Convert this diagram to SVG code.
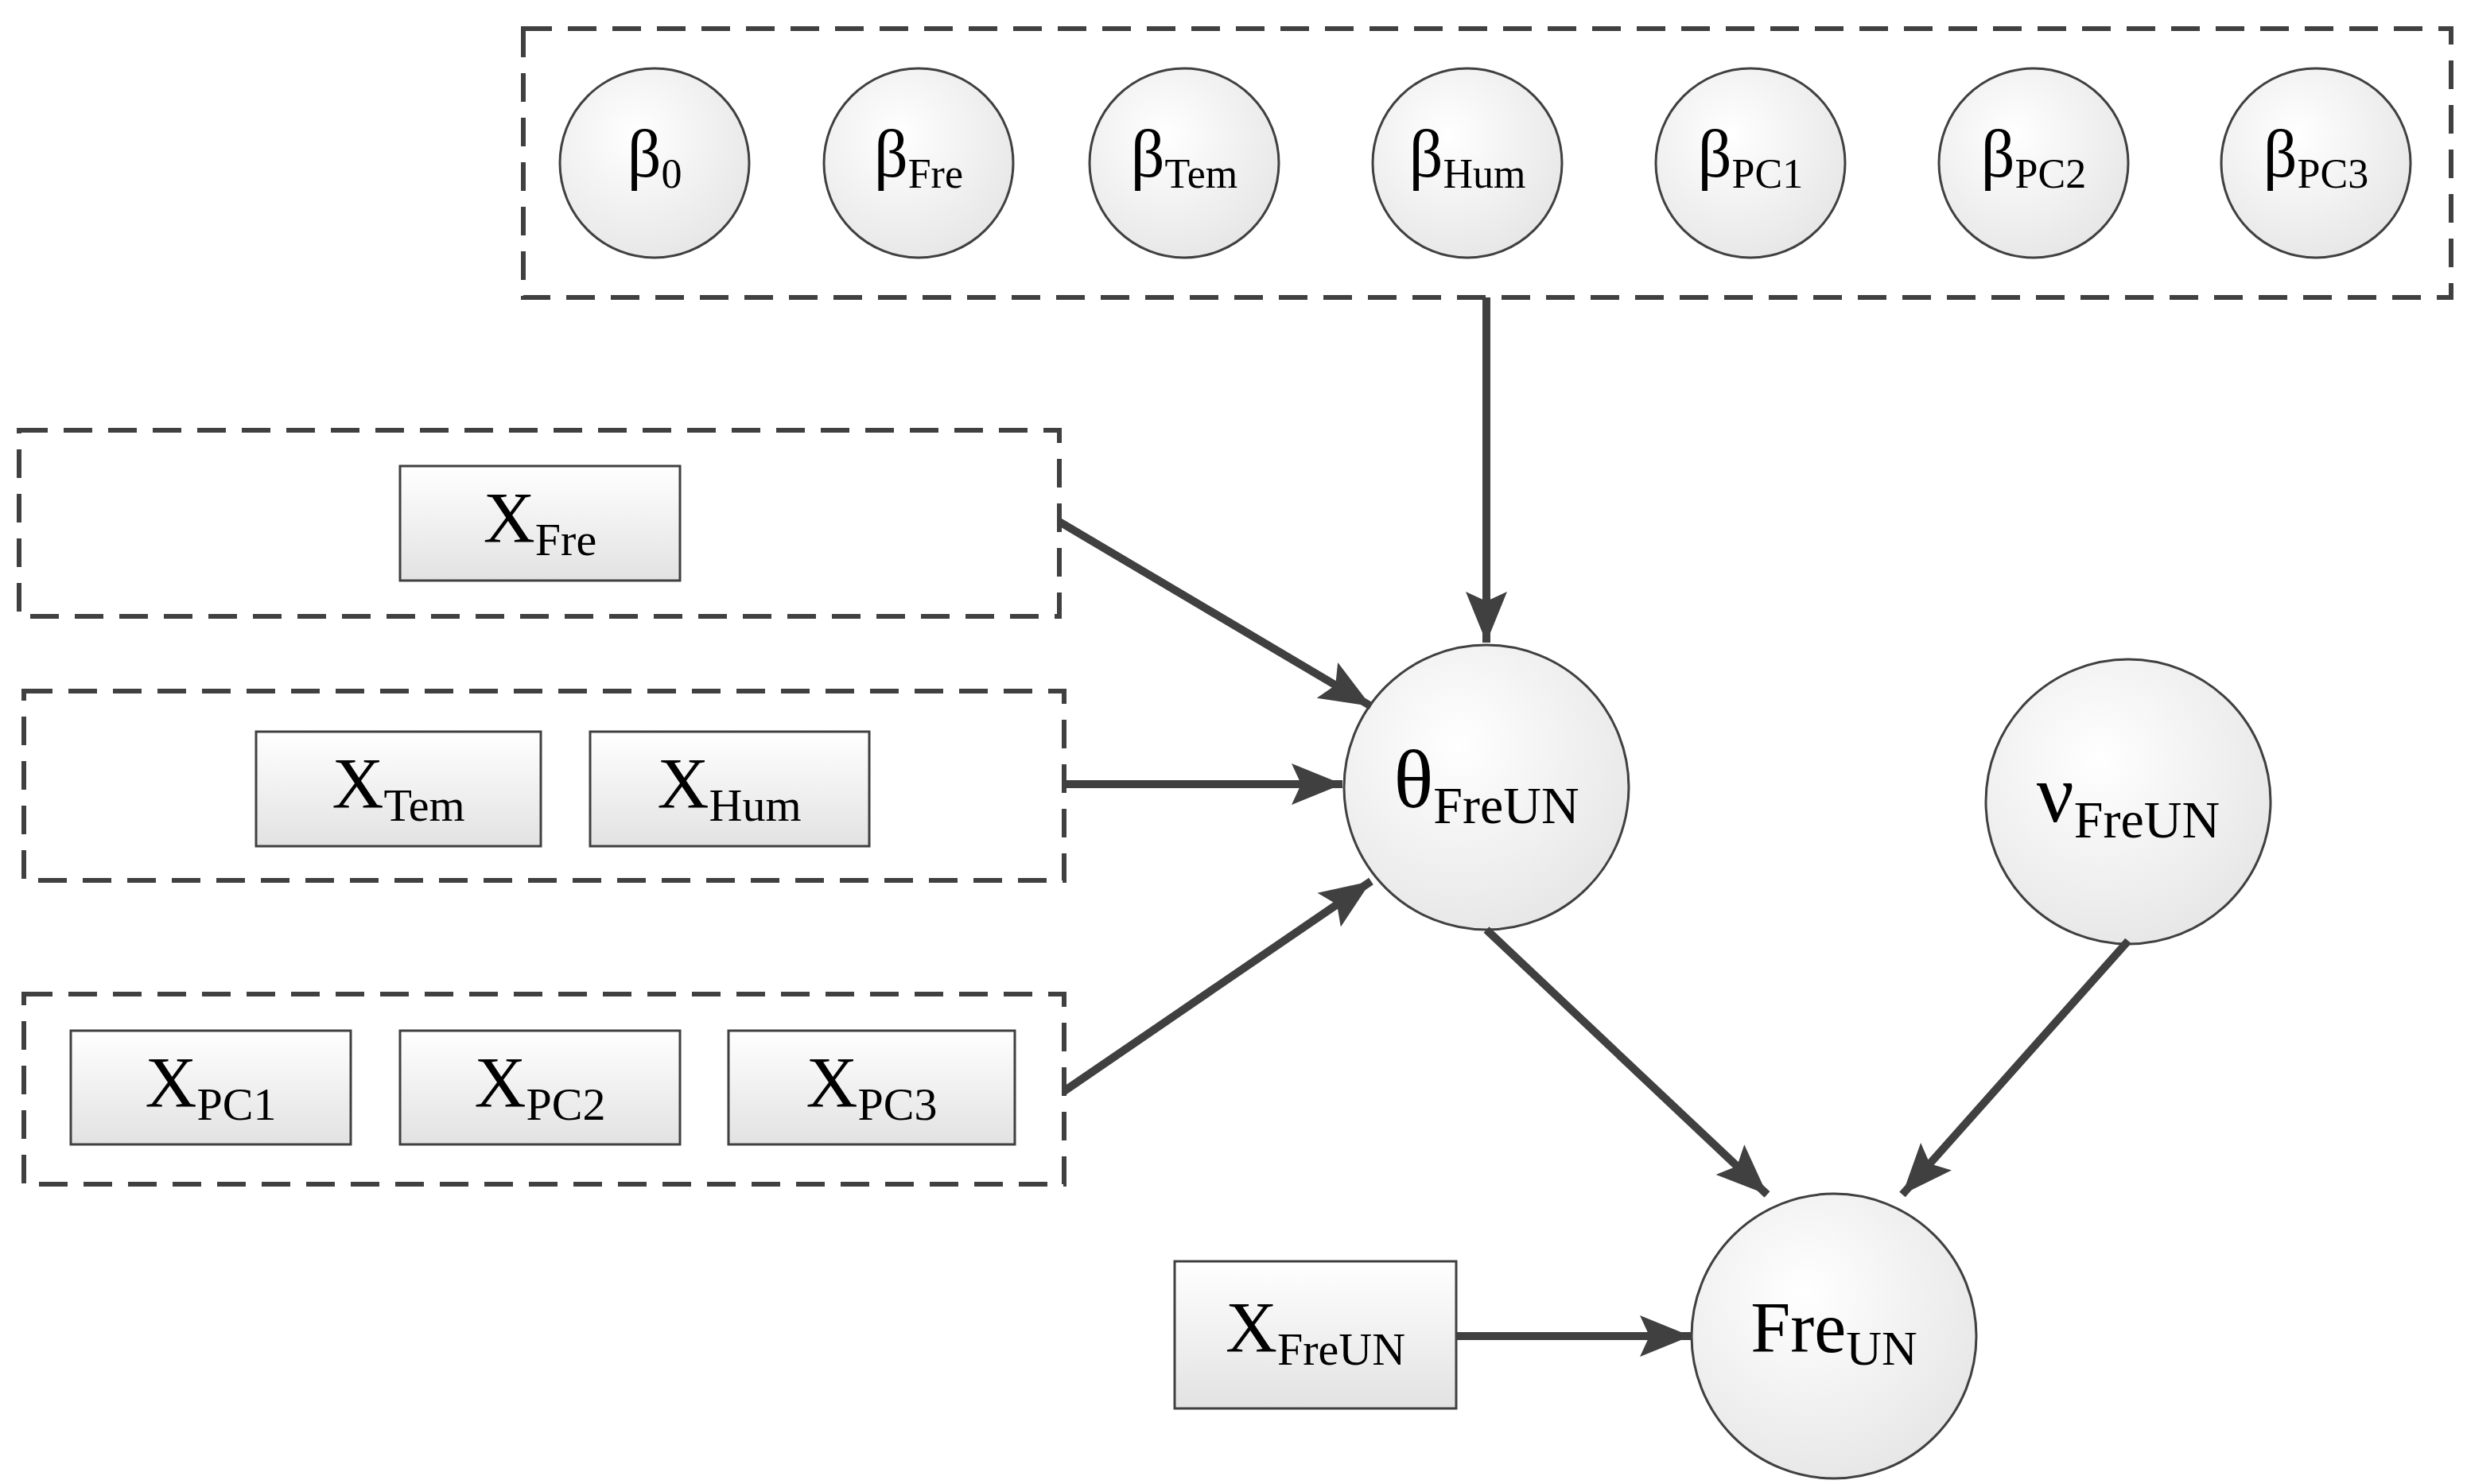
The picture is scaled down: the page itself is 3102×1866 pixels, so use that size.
<svg xmlns="http://www.w3.org/2000/svg" width="3102" height="1866" viewBox="0 0 3102 1866">
<defs>
<radialGradient id="cg" cx="0.4" cy="0.35" r="0.7"><stop offset="0" stop-color="#ffffff"/><stop offset="1" stop-color="#e6e6e6"/></radialGradient>
<linearGradient id="rg" x1="0" y1="0" x2="0" y2="1"><stop offset="0" stop-color="#ffffff"/><stop offset="1" stop-color="#e2e2e2"/></linearGradient>
<marker id="ah" markerUnits="userSpaceOnUse" markerWidth="70" markerHeight="60" refX="64" refY="30" orient="auto"><path d="M0,4 L64,30 L0,56 L12,30 Z" fill="#404040"/></marker>
<style>
.dash{fill:none;stroke:#404040;stroke-width:6;stroke-dasharray:36,20}
.c{fill:url(#cg);stroke:#404040;stroke-width:3}
.r{fill:url(#rg);stroke:#404040;stroke-width:3}
.t{font-family:"Liberation Serif",serif;fill:#000;text-anchor:middle}
.s{font-size:84px}.m{font-size:90px}.b{font-size:104px}
.e{stroke:#404040;stroke-width:10;fill:none;marker-end:url(#ah)}
</style>
</defs>
<rect width="3102" height="1866" fill="#fff"/>
<rect class="dash" x="658" y="36" width="2424" height="338"/>
<rect class="dash" x="24" y="541" width="1308" height="234"/>
<rect class="dash" x="30" y="869" width="1308" height="238"/>
<rect class="dash" x="30" y="1250" width="1308" height="239"/>
<g id="b0"><circle class="c" cx="823" cy="205" r="119"/><text class="t s" x="823" y="222">β<tspan font-size="52" dy="14">0</tspan></text></g>
<g id="bFre"><circle class="c" cx="1155" cy="205" r="119"/><text class="t s" x="1155" y="222">β<tspan font-size="52" dy="14">Fre</tspan></text></g>
<g id="bTem"><circle class="c" cx="1489" cy="205" r="119"/><text class="t s" x="1489" y="222">β<tspan font-size="52" dy="14">Tem</tspan></text></g>
<g id="bHum"><circle class="c" cx="1845" cy="205" r="119"/><text class="t s" x="1845" y="222">β<tspan font-size="52" dy="14">Hum</tspan></text></g>
<g id="bPC1"><circle class="c" cx="2201" cy="205" r="119"/><text class="t s" x="2201" y="222">β<tspan font-size="52" dy="14">PC1</tspan></text></g>
<g id="bPC2"><circle class="c" cx="2557" cy="205" r="119"/><text class="t s" x="2557" y="222">β<tspan font-size="52" dy="14">PC2</tspan></text></g>
<g id="bPC3"><circle class="c" cx="2912" cy="205" r="119"/><text class="t s" x="2912" y="222">β<tspan font-size="52" dy="14">PC3</tspan></text></g>
<g id="XFre"><rect class="r" x="503" y="586" width="352" height="144"/><text class="t m" x="679" y="682">X<tspan font-size="58" dy="16">Fre</tspan></text></g>
<g id="XTem"><rect class="r" x="322" y="920" width="358" height="144"/><text class="t m" x="501" y="1016">X<tspan font-size="58" dy="16">Tem</tspan></text></g>
<g id="XHum"><rect class="r" x="742" y="920" width="351" height="144"/><text class="t m" x="917" y="1016">X<tspan font-size="58" dy="16">Hum</tspan></text></g>
<g id="XPC1"><rect class="r" x="89" y="1296" width="352" height="143"/><text class="t m" x="265" y="1392">X<tspan font-size="58" dy="16">PC1</tspan></text></g>
<g id="XPC2"><rect class="r" x="503" y="1296" width="352" height="143"/><text class="t m" x="679" y="1392">X<tspan font-size="58" dy="16">PC2</tspan></text></g>
<g id="XPC3"><rect class="r" x="916" y="1296" width="360" height="143"/><text class="t m" x="1096" y="1392">X<tspan font-size="58" dy="16">PC3</tspan></text></g>
<g id="theta"><circle class="c" cx="1869" cy="990" r="179"/><text class="t b" x="1869" y="1015">θ<tspan font-size="66" dy="20">FreUN</tspan></text></g>
<g id="nu"><circle class="c" cx="2676" cy="1008" r="179"/><text class="t b" x="2676" y="1033">ν<tspan font-size="66" dy="20">FreUN</tspan></text></g>
<g id="Fre"><circle class="c" cx="2306" cy="1680" r="179"/><text class="t" font-size="90" x="2306" y="1700">Fre<tspan font-size="62" dy="16">UN</tspan></text></g>
<g id="XFreUN"><rect class="r" x="1477" y="1586" width="354" height="185"/><text class="t m" x="1654" y="1700">X<tspan font-size="58" dy="16">FreUN</tspan></text></g>
<g id="edges">
<line class="e" x1="1869" y1="374" x2="1869" y2="808"/>
<line class="e" x1="1332" y1="656" x2="1724" y2="888"/>
<line class="e" x1="1338" y1="986" x2="1688" y2="986"/>
<line class="e" x1="1338" y1="1372" x2="1724" y2="1108"/>
<line class="e" x1="1869" y1="1169" x2="2222" y2="1502"/>
<line class="e" x1="2676" y1="1183" x2="2392" y2="1502"/>
<line class="e" x1="1831" y1="1680" x2="2126" y2="1680"/>
</g>
</svg>
